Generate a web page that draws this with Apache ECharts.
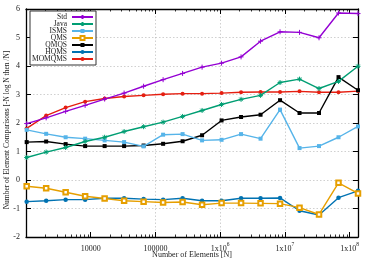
<!DOCTYPE html>
<html><head><meta charset="utf-8">
<script src="https://cdn.jsdelivr.net/npm/echarts@6/dist/echarts.min.js"></script>
<style>html,body{margin:0;padding:0;background:#fff}#c{width:371px;height:260px}</style>
</head><body><div id="c"></div>
<script>
const N = [1024, 2048, 4096, 8192, 16384, 32768, 65536, 131072, 262144, 524288, 1048576, 2097152, 4194304, 8388608, 16777216, 33554432, 67108864, 134217728];
const seriesNames = ['Std', 'Java', 'ISMS', 'QMS', 'QMQS', 'HQMS', 'MOMQMS'];
const stdVals    = [1.98, 2.18, 2.41, 2.62, 2.84, 3.05, 3.29, 3.52, 3.74, 3.96, 4.10, 4.32, 4.87, 5.20, 5.18, 4.99, 5.86, 5.84];
const javaVals   = [0.79, 0.98, 1.14, 1.35, 1.50, 1.70, 1.87, 2.03, 2.23, 2.44, 2.65, 2.83, 2.97, 3.42, 3.54, 3.21, 3.46, 3.99];
const ismsVals   = [1.76, 1.62, 1.50, 1.45, 1.39, 1.33, 1.18, 1.59, 1.61, 1.39, 1.41, 1.61, 1.45, 2.47, 1.12, 1.19, 1.50, 1.88];
const qmsVals    = [-0.22, -0.29, -0.43, -0.57, -0.65, -0.73, -0.76, -0.79, -0.77, -0.87, -0.81, -0.81, -0.82, -0.83, -0.97, -1.21, -0.10, -0.47];
const qmqsVals   = [1.33, 1.35, 1.26, 1.19, 1.19, 1.19, 1.21, 1.27, 1.36, 1.57, 2.09, 2.21, 2.29, 2.80, 2.35, 2.35, 3.61, 3.15];
const hqmsVals   = [-0.76, -0.73, -0.69, -0.69, -0.64, -0.64, -0.67, -0.69, -0.64, -0.73, -0.73, -0.64, -0.64, -0.63, -1.08, -1.23, -0.62, -0.38];
const momqmsVals = [1.81, 2.26, 2.54, 2.75, 2.86, 2.93, 2.97, 3.01, 3.03, 3.03, 3.05, 3.08, 3.09, 3.09, 3.11, 3.08, 3.08, 3.12];
const xMajorTicks = [10000, 100000, 1000000, 10000000, 100000000];
const xTickLabels = ['{b|10000}', '{b|100000}', '{b|1x10}{s|6}', '{b|1x10}{s|7}', '{b|1x10}{s|8}'];
const xMinorTicks = [2000, 3000, 4000, 5000, 6000, 7000, 8000, 9000,
  20000, 30000, 40000, 50000, 60000, 70000, 80000, 90000,
  200000, 300000, 400000, 500000, 600000, 700000, 800000, 900000,
  2000000, 3000000, 4000000, 5000000, 6000000, 7000000, 8000000, 9000000,
  20000000, 30000000, 40000000, 50000000, 60000000, 70000000, 80000000, 90000000];
const xTitle = 'Number of Elements [N]';
const yTitle = 'Number of Element Comparisons [-N log N then /N]';

const colors = ['#9400d3', '#009e73', '#56b4e9', '#e69f00', '#000000', '#0072b2', '#e51e10'];
const symbols = [
  'path://M0,5L10,5M5,0L5,10',
  'path://M0,5L10,5M5,0L5,10M1.5,1.5L8.5,8.5M1.5,8.5L8.5,1.5',
  'rect', 'emptyRect', 'rect', 'circle', 'circle'
];
const symSizes = [5, 5, 4, 4.5, 4, 4.5, 4];
const allVals = [stdVals, javaVals, ismsVals, qmsVals, qmqsVals, hqmsVals, momqmsVals];
const FONT = 'Liberation Serif';
const xMin = 1000, xMax = 134217728;

const series = seriesNames.map((name, k) => ({
  name, type: 'line', xAxisIndex: 0, yAxisIndex: 0,
  data: N.map((n, i) => [n, allVals[k][i]]),
  symbol: symbols[k], symbolSize: symSizes[k], showAllSymbol: true,
  lineStyle: {color: colors[k], width: 1.4},
  itemStyle: {color: colors[k], borderColor: colors[k], borderWidth: (k <= 1 || k === 3 ? 1 : 0)},
  z: 10 - k,
  animation: false
}));

const gridLine = {show: true, lineStyle: {type: [1.5, 2], color: '#b0b0b0', width: 0.6}, showMinLine: false, showMaxLine: false};
const axLine = {show: true, onZero: false, lineStyle: {color: '#000', width: 1.3}};

const chart = echarts.init(document.getElementById('c'), null, {renderer: 'canvas'});
chart.setOption({
  animation: false,
  backgroundColor: '#fff',
  grid: {left: 26, right: 13, top: 9, bottom: 23, containLabel: false, outerBoundsMode: 'none'},
  legend: {
    data: seriesNames,
    orient: 'vertical', left: 30, top: 11,
    align: 'right',
    itemWidth: 21, itemHeight: 5, itemGap: -1,
    padding: [2, 2, 2, 0],
    backgroundColor: '#fff',
    borderColor: '#333', borderWidth: 1, borderRadius: 0,
    formatter: name => '{t|' + name + '}',
    textStyle: {fontFamily: FONT, fontSize: 7.5, lineHeight: 7, color: '#222', padding: [0, 0, 0, 0],
      rich: {t: {width: 37, align: 'right', fontFamily: FONT, fontSize: 7.5, lineHeight: 7, height: 7}}}
  },
  xAxis: [
    {type: 'log', min: xMin, max: xMax, position: 'bottom',
     axisLine: axLine,
     axisTick: {show: true, inside: true, length: 5, customValues: xMajorTicks, lineStyle: {color: '#000', width: 1}},
     axisLabel: {customValues: xMajorTicks, margin: 4.5, color: '#222',
       formatter: v => xTickLabels[xMajorTicks.indexOf(v)] || '',
       rich: {b: {fontFamily: FONT, fontSize: 8, lineHeight: 11, verticalAlign: 'bottom', color: '#222'},
              s: {fontFamily: FONT, fontSize: 5.5, verticalAlign: 'top', color: '#222'}}},
     splitLine: gridLine,
     name: xTitle, nameLocation: 'middle', nameGap: 14, nameMoveOverlap: false,
     nameTextStyle: {fontFamily: FONT, fontSize: 8, color: '#222'}},
    {type: 'log', min: xMin, max: xMax, position: 'bottom',
     axisLine: {show: false, onZero: false},
     axisTick: {show: true, inside: true, length: 2.5, customValues: xMinorTicks, lineStyle: {color: '#000', width: 0.8}},
     axisLabel: {show: false}, splitLine: {show: false}},
    {type: 'log', min: xMin, max: xMax, position: 'top',
     axisLine: axLine,
     axisTick: {show: true, inside: true, length: 5, customValues: xMajorTicks, lineStyle: {color: '#000', width: 1}},
     axisLabel: {show: false}, splitLine: {show: false}},
    {type: 'log', min: xMin, max: xMax, position: 'top',
     axisLine: {show: false, onZero: false},
     axisTick: {show: true, inside: true, length: 2.5, customValues: xMinorTicks, lineStyle: {color: '#000', width: 0.8}},
     axisLabel: {show: false}, splitLine: {show: false}}
  ],
  yAxis: [
    {type: 'value', min: -2, max: 6, interval: 1, position: 'left',
     axisLine: axLine,
     axisTick: {show: true, inside: true, length: 5, lineStyle: {color: '#000', width: 1}},
     axisLabel: {fontFamily: FONT, fontSize: 8, color: '#222', margin: 6},
     splitLine: gridLine,
     name: yTitle, nameLocation: 'middle', nameGap: 15, nameMoveOverlap: false,
     nameTextStyle: {fontFamily: FONT, fontSize: 7.5, color: '#222', padding: [0, 14, 0, 0]}},
    {type: 'value', min: -2, max: 6, interval: 1, position: 'right',
     axisLine: axLine,
     axisTick: {show: true, inside: true, length: 5, lineStyle: {color: '#000', width: 1}},
     axisLabel: {show: false}, splitLine: {show: false}}
  ],
  series
});
</script></body></html>
